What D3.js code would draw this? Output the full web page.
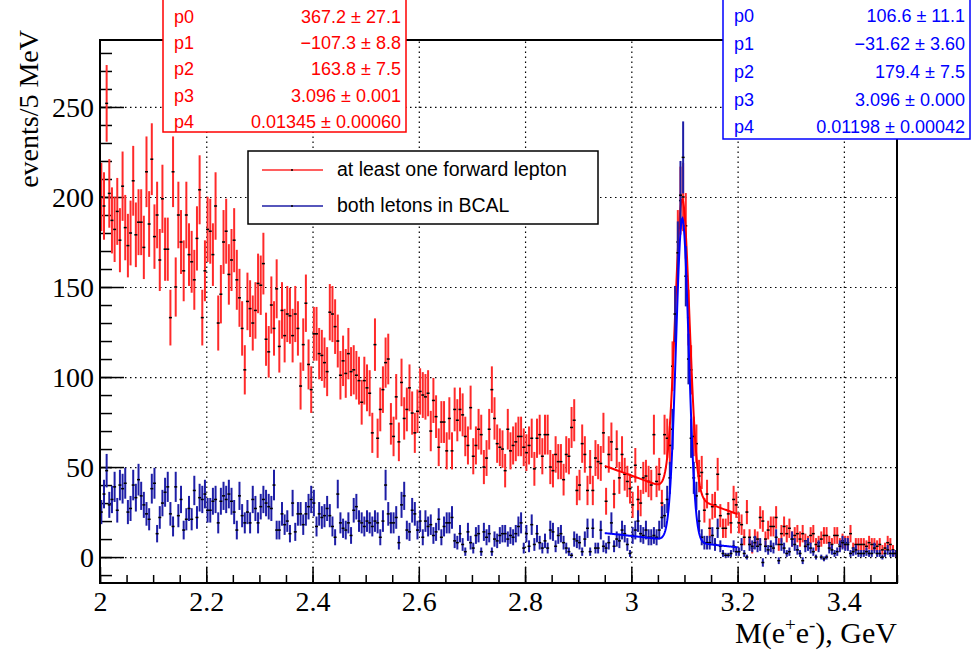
<!DOCTYPE html>
<html>
<head>
<meta charset="utf-8">
<script src="https://cdn.jsdelivr.net/npm/d3@7"></script>
<style>
  html, body { margin: 0; padding: 0; background: #fff; }
  svg { display: block; }
</style>
</head>
<body>
<svg id="chart" width="979" height="651"></svg>
<script>
// Dielectron invariant mass, 5 MeV bins from 2.0 to 3.5 GeV
const binLow = 2.0;
const binWidth = 0.005;

// events per bin, at least one forward lepton
const redCounts = [
  200,195,252,202,187,182,192,176,206,183,
  173,180,209,179,186,186,172,214,185,221,
  178,190,165,199,171,171,133,214,150,190,
  175,159,190,168,164,154,177,204,133,159,
  182,181,168,195,130,146,175,181,157,165,
  176,154,144,127,104,142,138,130,137,152,
  151,163,121,114,140,127,149,117,137,123,
  135,134,123,135,127,95,118,141,107,93,
  124,124,113,112,108,103,136,135,128,120,
  101,109,102,113,103,104,101,98,86,98,
  94,91,69,118,66,82,93,108,110,74,
  67,89,64,97,77,82,94,80,69,81,
  92,90,89,91,70,87,78,61,75,75,
  59,77,59,82,76,82,79,67,62,83,
  56,62,71,68,50,55,71,93,77,63,
  61,60,48,71,59,62,64,67,67,61,
  58,62,66,49,66,68,56,68,68,50,
  48,57,53,53,43,57,56,72,76,37,
  40,63,57,37,50,37,55,53,52,69,
  31,57,64,35,60,44,57,46,42,38,
  29,51,32,30,44,45,42,40,68,42,
  46,30,68,66,62,106,135,175,198,200,
  184,133,104,67,63,45,47,26,35,16,
  28,29,46,23,16,16,24,19,32,29,
  19,18,11,25,11,5,11,10,22,20,
  10,15,17,17,22,7,13,17,13,16,
  10,12,13,10,13,9,8,12,13,7,
  8,10,12,12,8,7,12,12,7,9,
  8,8,13,5,7,7,7,7,6,8,
  7,7,6,7,4,5,8,7,4,2
];

// events per bin, both leptons in the barrel calorimeter
const blueCounts = [
  25,35,48,29,32,39,26,40,38,41,
  25,27,40,33,43,34,29,24,21,38,
  41,13,22,30,36,39,24,17,39,23,
  32,15,21,27,21,37,22,33,32,35,
  26,26,31,32,19,31,34,32,35,31,
  25,15,34,23,19,25,19,32,27,19,
  28,32,30,28,27,40,15,15,24,18,
  20,13,30,14,24,24,18,24,28,32,
  30,17,24,22,23,27,23,17,11,35,
  19,16,15,19,12,26,28,20,19,17,
  20,19,17,20,19,11,20,40,24,19,
  19,22,8,29,34,15,14,26,24,15,
  20,11,20,17,18,12,14,21,11,17,
  19,19,22,9,8,13,7,3,14,8,
  5,12,13,3,14,11,13,3,10,9,
  12,13,13,10,12,11,13,17,19,5,
  13,6,18,7,13,8,5,9,5,15,
  14,6,12,13,8,5,3,1,10,9,
  8,3,10,16,3,16,5,5,15,6,
  5,8,19,6,10,9,15,13,7,2,
  12,15,20,13,12,15,11,11,12,11,
  15,22,23,32,44,71,135,169,201,222,
  156,110,66,44,34,20,11,8,8,8,
  12,7,16,6,2,1,1,2,6,3,
  3,7,2,0,7,6,8,6,7,-3,
  6,4,6,5,11,-2,7,5,2,3,
  10,7,4,2,-2,6,7,5,3,0,
  6,0,-1,0,5,4,2,3,6,8,
  7,7,2,3,4,2,2,2,3,2,
  2,5,2,2,0,2,4,2,2,2
];

// per-event weight used for the bin errors (sqrt of sum of weights squared)
const eventWeight = 1.8;

// fit: linear background + gaussian peak, p0 + p1*m + p2*exp(-((m-p3)/p4)^2/2)
const redFitParams  = [367.2, -107.3, 163.8, 3.096, 0.01345];
const blueFitParams = [106.6, -31.62, 179.4, 3.096, 0.01198];
const fitRange = [2.95, 3.2];

const statNames = ["p0", "p1", "p2", "p3", "p4"];
const redStatValues  = ["367.2 \u00b1 27.1", "\u2212107.3 \u00b1 8.8", "163.8 \u00b1 7.5", "3.096 \u00b1 0.001", "0.01345 \u00b1 0.00060"];
const blueStatValues = ["106.6 \u00b1 11.1", "\u221231.62 \u00b1 3.60", "179.4 \u00b1 7.5", "3.096 \u00b1 0.000", "0.01198 \u00b1 0.00042"];

const legendLabels = ["at least one forward lepton", "both letons in BCAL"];

const xMajorTicks = [2, 2.2, 2.4, 2.6, 2.8, 3, 3.2, 3.4];
const yMajorTicks = [0, 50, 100, 150, 200, 250];
const yTitle = "events/5 MeV";

const RED = "#ff0000", RED_BAR = "#ff2a2a";
const BLUE = "#0000ff", BLUE_BAR = "#1e1ea6";

const svg = d3.select("#chart");
const frame = { left: 100, right: 897, top: 40, bottom: 583 };
const x = d3.scaleLinear().domain([2, 3.5]).range([frame.left, frame.right]);
const y = d3.scaleLinear().domain([-14.4, 287.2]).range([frame.bottom, frame.top]);

const serif = "'Liberation Serif', 'Times New Roman', serif";
const sans = "'Liberation Sans', Arial, sans-serif";

// clip region for everything drawn inside the frame
svg.append("defs").append("clipPath").attr("id", "frameClip")
  .append("rect")
  .attr("x", frame.left).attr("y", frame.top)
  .attr("width", frame.right - frame.left).attr("height", frame.bottom - frame.top);

// dotted grid at the major ticks
const grid = svg.append("g");
grid.append("g")
  .attr("transform", `translate(0,${frame.bottom})`)
  .call(d3.axisBottom(x).tickValues(xMajorTicks.filter(v => v > 2)).tickSize(-(frame.bottom - frame.top)).tickFormat(""))
  .call(g => g.select(".domain").remove());
grid.append("g")
  .attr("transform", `translate(${frame.left},0)`)
  .call(d3.axisLeft(y).tickValues(yMajorTicks).tickSize(-(frame.right - frame.left)).tickFormat(""))
  .call(g => g.select(".domain").remove());
grid.selectAll("line").attr("stroke", "#000").attr("stroke-width", 1.2).attr("stroke-dasharray", "1.5,3.5");

// axes: ticks pointing into the frame
const xMinor = d3.range(2, 3.5001, 0.05).map(v => +v.toFixed(2));
const yMinor = d3.range(-10, 281, 10);

const xAxisG = svg.append("g").attr("transform", `translate(0,${frame.bottom})`);
xAxisG.append("g").call(d3.axisBottom(x).tickValues(xMinor).tickSize(-8).tickFormat(""))
  .call(g => g.select(".domain").remove());
xAxisG.append("g").call(d3.axisBottom(x).tickValues(xMajorTicks).tickSize(-16).tickPadding(8).tickFormat(d3.format("")))
  .call(g => g.select(".domain").remove());
xAxisG.selectAll("line").attr("stroke", "#000").attr("stroke-width", 1.5);
xAxisG.selectAll("text").attr("font-family", serif).attr("font-size", 28).attr("fill", "#000").attr("dy", "0.72em");

const yAxisG = svg.append("g").attr("transform", `translate(${frame.left},0)`);
yAxisG.append("g").call(d3.axisLeft(y).tickValues(yMinor).tickSize(-12).tickFormat(""))
  .call(g => g.select(".domain").remove());
yAxisG.append("g").call(d3.axisLeft(y).tickValues(yMajorTicks).tickSize(-24).tickPadding(6).tickFormat(d3.format("")))
  .call(g => g.select(".domain").remove());
yAxisG.selectAll("line").attr("stroke", "#000").attr("stroke-width", 1.5);
yAxisG.selectAll("text").attr("font-family", serif).attr("font-size", 28).attr("fill", "#000").attr("dy", "0.34em");

// axis titles
const xt = svg.append("text")
  .attr("x", frame.right).attr("y", 643)
  .attr("text-anchor", "end")
  .attr("font-family", serif).attr("font-size", 30).attr("fill", "#000");
xt.append("tspan").text("M(e");
xt.append("tspan").attr("font-size", 19).attr("dy", -12).text("+");
xt.append("tspan").attr("dy", 12).text("e");
xt.append("tspan").attr("font-size", 19).attr("dy", -12).text("-");
xt.append("tspan").attr("dy", 12).text("), GeV");

svg.append("text")
  .attr("transform", `translate(38,30) rotate(-90)`)
  .attr("text-anchor", "end")
  .attr("font-family", serif).attr("font-size", 28).attr("fill", "#000")
  .text(yTitle);

// histograms with error bars and fitted curves
const plot = svg.append("g").attr("clip-path", "url(#frameClip)");

function drawHist(counts, barColor) {
  const bins = counts.map((v, i) => ({
    m: binLow + (i + 0.5) * binWidth,
    v: v,
    e: Math.sqrt(eventWeight * Math.max(Math.abs(v), 1))
  }));
  const g = plot.append("g");
  g.selectAll("line.err").data(bins).join("line")
    .attr("class", "err")
    .attr("x1", d => x(d.m)).attr("x2", d => x(d.m))
    .attr("y1", d => y(d.v - d.e)).attr("y2", d => y(d.v + d.e))
    .attr("stroke", barColor).attr("stroke-width", 2);
  g.selectAll("rect.mk").data(bins).join("rect")
    .attr("class", "mk")
    .attr("x", d => x(d.m) - 1.5).attr("y", d => y(d.v) - 0.75)
    .attr("width", 3).attr("height", 1.5)
    .attr("fill", "#000");
}

function drawFit(p, color) {
  const f = m => p[0] + p[1] * m + p[2] * Math.exp(-0.5 * Math.pow((m - p[3]) / p[4], 2));
  const n = 200;
  const pts = d3.range(n + 1).map(k => {
    const m = fitRange[0] + (fitRange[1] - fitRange[0]) * k / n;
    return [m, f(m)];
  });
  plot.append("path")
    .attr("d", d3.line().x(d => x(d[0])).y(d => y(d[1]))(pts))
    .attr("fill", "none").attr("stroke", color).attr("stroke-width", 2);
}

drawHist(redCounts, RED_BAR);
drawFit(redFitParams, RED);
drawHist(blueCounts, BLUE_BAR);
drawFit(blueFitParams, BLUE);

// frame
svg.append("rect")
  .attr("x", frame.left).attr("y", frame.top)
  .attr("width", frame.right - frame.left).attr("height", frame.bottom - frame.top)
  .attr("fill", "none").attr("stroke", "#000").attr("stroke-width", 2);

// fit parameter boxes
function statBox(left, right, bottom, baselines, values, color) {
  const g = svg.append("g");
  g.append("rect")
    .attr("x", left).attr("y", -2)
    .attr("width", right - left).attr("height", bottom + 2)
    .attr("fill", "#fff").attr("stroke", color).attr("stroke-width", 1.5);
  statNames.forEach((nm, i) => {
    g.append("text").attr("x", left + 11).attr("y", baselines[i])
      .attr("font-family", sans).attr("font-size", 18).attr("fill", color).text(nm);
    g.append("text").attr("x", right - 5).attr("y", baselines[i])
      .attr("text-anchor", "end")
      .attr("font-family", sans).attr("font-size", 18).attr("fill", color).text(values[i]);
  });
}
statBox(163, 406, 132, [22.7, 49.3, 75, 101.7, 128], redStatValues, RED);
statBox(723, 970, 139, [21.7, 50, 78.3, 106, 133.3], blueStatValues, BLUE);

// legend
const leg = svg.append("g");
leg.append("rect")
  .attr("x", 248).attr("y", 151).attr("width", 350).attr("height", 73)
  .attr("fill", "#fff").attr("stroke", "#000").attr("stroke-width", 1.5);
[[RED_BAR, 170, 176], [BLUE_BAR, 206, 212]].forEach(([c, ly, ty], i) => {
  leg.append("line").attr("x1", 262).attr("x2", 323).attr("y1", ly).attr("y2", ly)
    .attr("stroke", c).attr("stroke-width", 1.5);
  leg.append("rect").attr("x", 291).attr("y", ly - 0.75).attr("width", 2).attr("height", 1.5).attr("fill", "#000");
  leg.append("text").attr("x", 337).attr("y", ty)
    .attr("font-family", sans).attr("font-size", 19.5).attr("fill", "#000")
    .text(legendLabels[i]);
});
</script>
</body>
</html>
